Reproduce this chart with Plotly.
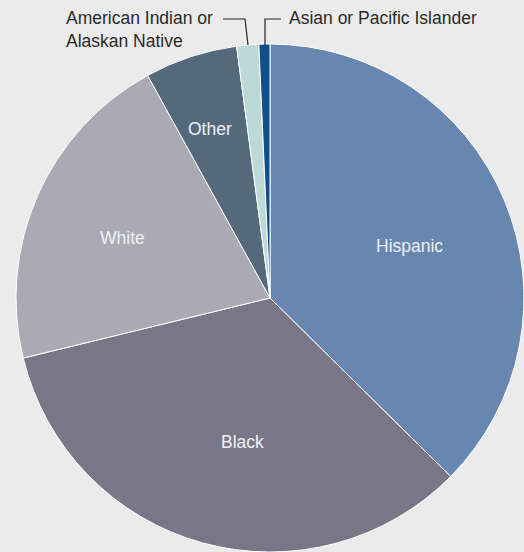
import plotly.graph_objects as go

categories = ["Hispanic", "Black", "White", "Other", "American Indian or Alaskan Native", "Asian or Pacific Islander"]
shares = [37.4, 33.8, 20.8, 5.9, 1.4, 0.7]
colors = ["#6787b0", "#797787", "#abaab4", "#546a7c", "#bdd9d5", "#0f4f8c"]
inside_labels = ["Hispanic", "Black", "White", "Other"]
inside_label_px = [(409, 246), (242, 442), (122, 238), (210, 129)]

W, H = 524, 552
def px(x):
    return x / W
def py(y):
    return 1 - y / H

fig = go.Figure(go.Pie(
    labels=categories,
    values=shares,
    textinfo="none",
    sort=False,
    direction="clockwise",
    rotation=0,
    marker=dict(colors=colors, line=dict(color="#ffffff", width=1)),
    domain=dict(x=[px(16), 1], y=[0, py(44)]),
    showlegend=False,
    hoverinfo="label+percent",
))

family = "Liberation Sans, Arial, sans-serif"
size = 17.5
font = dict(family=family, size=size, color="#2a2a2a")
annotations = []
for lab, (x, y) in zip(inside_labels, inside_label_px):
    annotations.append(dict(x=px(x), y=py(y), xref="paper", yref="paper", xanchor="center",
                            yanchor="middle", text=lab, showarrow=False,
                            font=dict(family=family, size=size, color="#eef1f5")))
annotations += [
    dict(x=px(64), y=py(29), xref="paper", yref="paper", xanchor="left", yanchor="middle",
         text="American Indian or<br>Alaskan Native", showarrow=False, align="left", font=font),
    dict(x=px(287), y=py(18), xref="paper", yref="paper", xanchor="left", yanchor="middle",
         text="Asian or Pacific Islander", showarrow=False, align="left", font=font),
]
line = dict(color="#222222", width=1.2)
shapes = [
    dict(type="path", xref="paper", yref="paper",
         path=f"M {px(223)} {py(19)} L {px(245)} {py(19)} L {px(248)} {py(45)}", line=line),
    dict(type="path", xref="paper", yref="paper",
         path=f"M {px(265)} {py(45)} L {px(265)} {py(19)} L {px(281)} {py(19)}", line=line),
]

fig.update_layout(
    width=W, height=H,
    margin=dict(l=0, r=0, t=0, b=0),
    paper_bgcolor="#ebebeb",
    plot_bgcolor="#ebebeb",
    annotations=annotations,
    shapes=shapes,
)
fig.write_html("out.html", config={"displayModeBar": False},
               post_script="document.body.style.margin='0';document.body.style.overflow='hidden';")
